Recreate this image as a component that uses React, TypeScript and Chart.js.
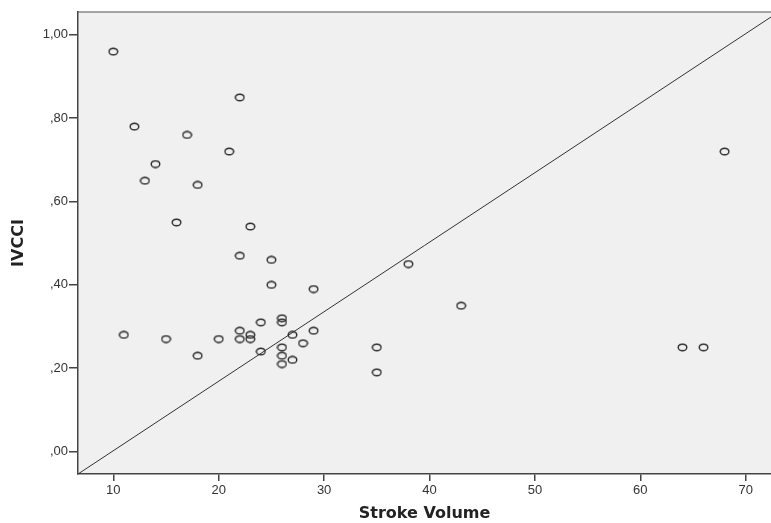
import React, { useEffect, useRef } from "react";
import { Chart, registerables } from "chart.js";

Chart.register(...registerables);

const strokeVolume = [10, 12, 13, 14, 16, 17, 18, 21, 22, 22, 23, 25, 25, 29, 38, 43, 68,
  11, 15, 18, 20, 22, 22, 23, 23, 24, 24, 26, 26, 26, 26, 26, 27, 27, 28, 29, 35, 35, 64, 66];
const ivcci = [0.96, 0.78, 0.65, 0.69, 0.55, 0.76, 0.64, 0.72, 0.85, 0.47, 0.54, 0.46, 0.40, 0.39, 0.45, 0.35, 0.72,
  0.28, 0.27, 0.23, 0.27, 0.29, 0.27, 0.28, 0.27, 0.31, 0.24, 0.32, 0.31, 0.25, 0.23, 0.21, 0.28, 0.22, 0.26, 0.29, 0.25, 0.19, 0.25, 0.25];

const refLineX = [6.65, 72.4];
const refLineY = [-0.054, 1.043];

const xTicks = [10, 20, 30, 40, 50, 60, 70];
const yTicks = [0, 0.2, 0.4, 0.6, 0.8, 1.0];
const xRange = [6.65, 72.4];
const yRange = [-0.054, 1.055];

const tickFont = "'Liberation Sans', Arial, sans-serif";
const titleFont = "'DejaVu Sans', Verdana, sans-serif";

function fmtY(v: number) {
  let s = v.toFixed(2).replace(".", ",");
  if (s.startsWith("0")) s = s.slice(1);
  return s;
}

function makeMarker() {
  const c = document.createElement("canvas");
  c.width = 11;
  c.height = 9;
  const ctx = c.getContext("2d")!;
  ctx.strokeStyle = "#2a2a2a";
  ctx.lineWidth = 1.4;
  ctx.beginPath();
  ctx.ellipse(5.5, 4.5, 4.3, 3.3, 0, 0, Math.PI * 2);
  ctx.stroke();
  return c;
}

const bgPlugin = {
  id: "bgPlugin",
  beforeDraw(chart: any) {
    const { ctx, chartArea } = chart;
    ctx.save();
    ctx.fillStyle = "#f0f0f0";
    ctx.fillRect(chartArea.left, chartArea.top, chartArea.right - chartArea.left, chartArea.bottom - chartArea.top);
    ctx.strokeStyle = "#888";
    ctx.lineWidth = 1.5;
    ctx.beginPath();
    ctx.moveTo(chartArea.left, chartArea.top);
    ctx.lineTo(chartArea.right, chartArea.top);
    ctx.stroke();
    ctx.restore();
  },
};

export default function App() {
  const ref = useRef<HTMLCanvasElement>(null);
  useEffect(() => {
    const marker = makeMarker();
    const chart = new Chart(ref.current!, {
      type: "scatter",
      data: {
        datasets: [
          {
            type: "line",
            data: refLineX.map((x, i) => ({ x, y: refLineY[i] })),
            borderColor: "#333",
            borderWidth: 1,
            pointRadius: 0,
            fill: false,
          } as any,
          {
            data: strokeVolume.map((x, i) => ({ x, y: ivcci[i] })),
            pointStyle: marker as any,
            pointRadius: 4,
          },
        ],
      },
      options: {
        animation: false,
        responsive: false,
        layout: { autoPadding: false, padding: { top: 12, right: 0, left: 0, bottom: 0 } } as any,
        plugins: { legend: { display: false }, tooltip: { enabled: false } },
        scales: {
          x: {
            type: "linear",
            min: xRange[0],
            max: xRange[1],
            afterBuildTicks: (s: any) => {
              s.ticks = xTicks.map((v) => ({ value: v }));
            },
            afterFit: (s: any) => {
              s.height = 49;
              s.paddingLeft = 0;
              s.paddingRight = 0;
            },
            grid: { drawOnChartArea: false, drawTicks: true, tickLength: 7, color: "#444", lineWidth: 1.5 },
            border: { color: "#444", width: 1.5 },
            ticks: { color: "#333", font: { family: tickFont, size: 13 }, padding: 2 },
            title: {
              display: true,
              text: "Stroke Volume",
              color: "#222",
              font: { family: titleFont, size: 16, weight: "bold" },
              padding: { top: 2, bottom: 0 },
            },
          },
          y: {
            type: "linear",
            min: yRange[0],
            max: yRange[1],
            afterBuildTicks: (s: any) => {
              s.ticks = yTicks.map((v) => ({ value: v }));
            },
            afterFit: (s: any) => {
              s.width = 78;
              s.paddingTop = 0;
              s.paddingBottom = 0;
            },
            grid: { drawOnChartArea: false, drawTicks: true, tickLength: 9, color: "#444", lineWidth: 1.5 },
            border: { color: "#444", width: 1.5 },
            ticks: {
              color: "#333",
              font: { family: tickFont, size: 13 },
              padding: 1,
              callback: (v: any) => fmtY(Number(v)),
            },
            title: {
              display: true,
              text: "IVCCI",
              color: "#222",
              font: { family: titleFont, size: 16, weight: "bold" },
              padding: { top: 9, bottom: 2 },
            },
          },
        },
      },
      plugins: [bgPlugin],
    });
    return () => chart.destroy();
  }, []);
  return (
    <div style={{ position: "fixed", left: 0, top: 0, width: 771, height: 523, background: "#fff" }}>
      <canvas ref={ref} width={771} height={523} style={{ width: 771, height: 523 }} />
    </div>
  );
}
